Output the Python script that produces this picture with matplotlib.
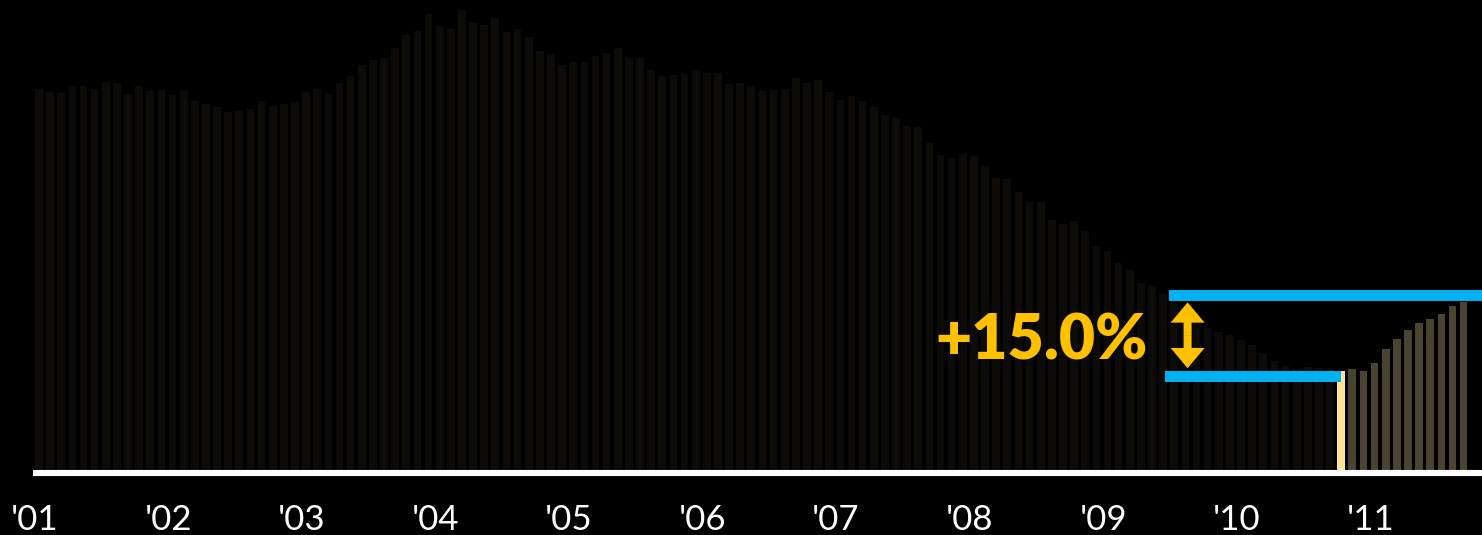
import matplotlib
matplotlib.use("Agg")

import matplotlib.pyplot as plt
import numpy as np

# ── Data: monthly index, Jan 2001 .. Oct 2011 (Oct 2010 = 100) ───────
years = ["'01", "'02", "'03", "'04", "'05", "'06",
         "'07", "'08", "'09", "'10", "'11"]

index_values = [
    161.2, 160.6, 160.4, 161.7, 161.9, 161.2, 162.8, 162.6, 160.2, 161.9, 160.8, 161.1,  # 2001
    160.0, 160.8, 158.6, 158.0, 157.3, 156.2, 156.5, 156.9, 158.6, 157.5, 158.0, 158.4,  # 2002
    160.6, 161.2, 160.4, 162.5, 164.1, 166.4, 167.5, 168.0, 170.1, 173.0, 173.8, 177.6,  # 2003
    174.9, 174.2, 178.4, 175.6, 175.1, 176.7, 173.7, 174.2, 172.5, 169.5, 168.8, 166.4,  # 2004
    167.1, 167.1, 168.3, 169.1, 170.2, 168.0, 168.0, 165.4, 164.1, 164.3, 164.5, 165.1,  # 2005
    164.7, 164.7, 162.3, 162.5, 161.9, 160.8, 161.0, 161.3, 163.6, 162.5, 163.1, 160.5,  # 2006
    158.9, 159.8, 158.6, 157.3, 155.5, 154.9, 153.1, 153.0, 149.5, 147.0, 146.2, 147.1,  # 2007
    146.7, 144.5, 142.0, 141.7, 138.9, 136.6, 136.6, 132.7, 131.9, 132.6, 130.3, 127.0,  # 2008
    126.1, 123.4, 121.9, 119.1, 118.5, 116.7, 114.8, 113.2, 111.5, 109.3, 108.5, 107.8,  # 2009
    106.7, 105.6, 103.9, 102.2, 101.1, 100.4, 100.9, 100.7, 100.4, 100.0, 100.4, 99.9,   # 2010
    101.7, 104.8, 106.9, 108.9, 110.4, 111.3, 112.4, 114.1, 115.0,                       # 2011
]

low_idx = 117           # Oct 2010 – the trough
axis_floor = 78.5       # bars start here (truncated axis)

# ── Colours ───────────────────────────────────────────────────────────
BG = "#000000"
OLD_BAR = "#0c0b07"
HILITE = "#ffe49a"
NEW_BAR = "#4a4331"
BLUE = "#00b0f0"
GOLD = "#ffc000"

n = len(index_values)
x = np.arange(n)
colors = [OLD_BAR if i < low_idx else HILITE if i == low_idx else NEW_BAR
          for i in range(n)]

fig = plt.figure(figsize=(14.82, 5.35), dpi=100)
fig.patch.set_facecolor(BG)
ax = fig.add_axes([0, 0, 1, 1])
ax.set_facecolor(BG)
ax.set_axis_off()

ax.set_xlim(-3.504, 129.65)
ax.set_ylim(64.385, 180.56)

# bars
heights = [v - axis_floor for v in index_values]
ax.bar(x, heights, bottom=axis_floor, width=0.69, color=colors, zorder=2)

# white baseline
ax.plot([-0.54, 131], [77.74, 77.74], color="white", lw=4.4,
        solid_capstyle="butt", zorder=3)

# year labels
for k, lab in enumerate(years):
    ax.text(12 * k - 0.4, 65.4, lab, color="white", fontsize=25,
            family="Lato", ha="center", va="baseline")

# ── Change marker ─────────────────────────────────────────────────────
low_v = index_values[low_idx]
high_v = index_values[-1]
thick = 2.45

# upper line, sitting on top of the latest bar
ax.fill_between([101.5, 131], high_v + 0.2, high_v + 0.2 + thick,
                color=BLUE, lw=0, zorder=4)
# lower line, level with the trough bar
ax.fill_between([101.2, low_idx], low_v - thick, low_v,
                color=BLUE, lw=0, zorder=4)

# double-headed arrow (two halves from the middle)
ax_x = 103.2
mid = (low_v + high_v) / 2 + 0.3
for end in (high_v - 0.1, low_v + 0.6):
    ax.arrow(ax_x, mid, 0, end - mid, width=0.72, head_width=3.05,
             head_length=4.4, length_includes_head=True,
             color=GOLD, lw=0, zorder=5)

pct = (high_v / low_v - 1) * 100
ax.text(99.6, 102.4, f"+{pct:.1f}%", color=GOLD, fontsize=45,
        fontweight="heavy", family="Lato", ha="right", va="baseline",
        zorder=5)

fig.savefig("out.png", dpi=100, facecolor=BG)
